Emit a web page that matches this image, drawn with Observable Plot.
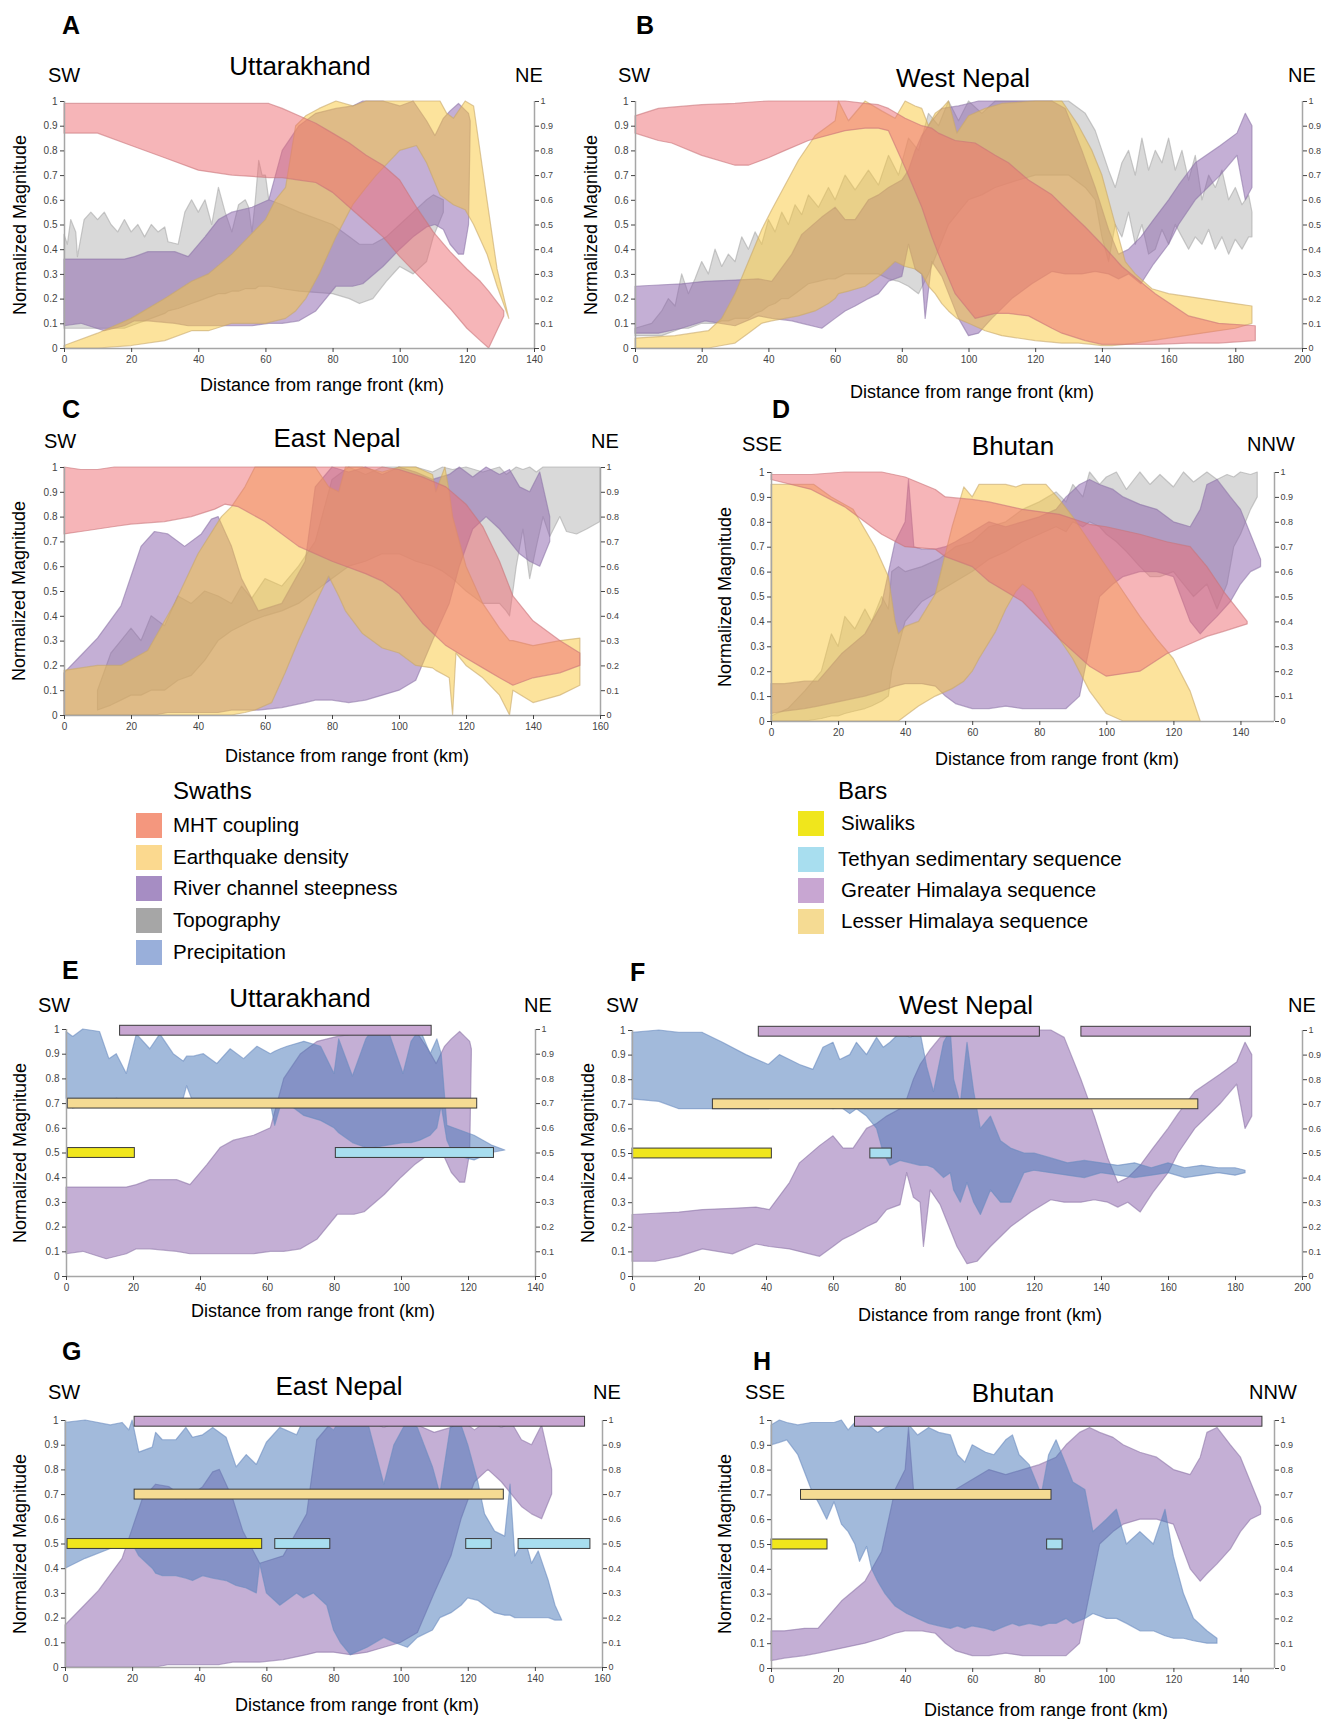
<!DOCTYPE html>
<html><head><meta charset="utf-8">
<script src="https://cdn.jsdelivr.net/npm/d3@7"></script>
<script src="https://cdn.jsdelivr.net/npm/@observablehq/plot@0.6"></script>
<style>
html,body{margin:0;padding:0;background:#fff;}
body{width:1321px;height:1719px;position:relative;overflow:hidden;font-family:"Liberation Sans",Arial,sans-serif;color:#000;}
.t{position:absolute;white-space:nowrap;line-height:1;}
.sw{position:absolute;width:26px;height:25px;}
</style></head>
<body>
<script>
// ---------- DATA: swaths as [distance km, lower, upper] ----------
// Uttarakhand
const A_mht = [[0,.87,.99],[10,.87,.99],[20,.82,.99],[30,.77,.99],[40,.72,.99],[50,.70,.99],[61,.69,.99],[65,.69,.97],[70,.68,.94],[75,.67,.91],[80,.63,.87],[85,.57,.83],[90,.51,.78],[95,.45,.74],[100,.37,.68],[105,.30,.57],[110,.23,.47],[115,.16,.39],[120,.08,.32],[124,.03,.27],[126.5,0,.23],[131,.13,.15]];
const A_eq = [[0,0,.01],[10,0,.06],[20,.01,.12],[30,.03,.2],[38,.07,.27],[43,.07,.3],[50,.1,.38],[55,.1,.45],[60,.1,.52],[63,.11,.6],[66,.12,.65],[69,.15,.9],[72,.2,.94],[76,.3,.97],[81,.45,1],[86,.58,.98],[90,.65,1],[93,.7,1],[100,.8,1],[105,.82,1],[108,.75,1],[112,.62,1],[114,.6,.95],[116,.58,.93],[119.5,.56,1],[122,.5,.98],[126,.38,.6],[129,.25,.32],[132.5,.12,.12]];
const A_river = [[0,.09,.36],[5,.1,.36],[12,.07,.36],[18,.09,.36],[21,.11,.37],[25,.11,.39],[33,.1,.39],[37,.09,.37],[42,.09,.45],[46,.09,.52],[50,.09,.55],[56,.09,.57],[61,.1,.6],[65,.1,.8],[70,.11,.9],[75,.15,.95],[81,.25,.97],[86,.25,.98],[89,.26,1],[95,.33,1],[100,.4,.98],[104,.45,1],[108,.49,.92],[110.5,.5,.86],[113,.48,.93],[115,.42,.96],[117.5,.38,.99],[119,.38,.97],[120.5,.5,.95],[121,.9,.92]];
const A_topo = [[0,.08,.46],[1,.08,.42],[2,.08,.52],[3.5,.08,.47],[4,.08,.37],[6,.08,.52],[8,.08,.55],[10,.08,.52],[12,.08,.55],[14,.08,.5],[16,.08,.47],[18,.08,.52],[20,.09,.47],[22,.1,.5],[24,.11,.45],[26,.12,.5],[28,.13,.47],[30,.14,.49],[31,.15,.43],[34,.16,.42],[36,.17,.55],[38,.18,.6],[40,.19,.55],[42,.2,.6],[44,.21,.5],[46,.22,.65],[48,.22,.55],[50,.23,.47],[52,.23,.58],[54,.24,.6],[55,.24,.57],[56,.24,.47],[57,.24,.6],[58,.25,.76],[59,.25,.7],[60,.25,.7],[61,.25,.6],[65,.24,.58],[70,.23,.55],[80,.22,.5],[85,.2,.45],[88,.18,.42],[92,.2,.42],[96,.27,.45],[100,.33,.5],[104,.3,.55],[108,.35,.6],[110,.45,.62],[113,.55,.6]];
const E_precip = [[0,.72,.99],[2,.68,.97],[5,.69,1],[10,.7,.99],[12.8,.7,.88],[15,.72,.9],[18,.7,.82],[21,.7,.98],[25,.7,.92],[28,.7,.98],[32,.7,.9],[35,.72,.87],[36,.77,.89],[38,.7,.89],[41,.69,.9],[45,.7,.86],[49,.7,.92],[53,.7,.88],[57,.7,.93],[61,.7,.9],[62.3,.61,.91],[64,.69,.92],[66,.7,.93],[71,.65,.95],[76,.63,.93],[80,.6,.82],[81.4,.58,.96],[85.5,.54,.81],[89.5,.52,.96],[91.5,.52,1],[96,.53,1],[100.6,.54,.82],[103,.54,.95],[105.6,.55,1],[108.7,.57,.9],[110.7,.6,.96],[112,.69,.9],[113.7,.55,.61],[115.7,.49,.6],[121.8,.47,.57],[127,.5,.53],[131,.51,.51]];
const E_units = [["Greater Himalaya sequence",16,109],["Lesser Himalaya sequence",0.4,122.6],["Siwaliks",0.4,20.4],["Tethyan sedimentary sequence",80.4,127.6]];

// West Nepal
const B_mht = [[0,.87,.94],[7,.84,.97],[11,.83,.975],[20,.78,.985],[30,.74,.99],[34,.74,.995],[40,.77,1],[45,.8,1],[52,.84,1],[63,.88,1],[69,.89,.99],[73,.89,.985],[76,.88,.97],[81,.73,.93],[86,.57,.9],[89,.45,.89],[91,.38,.87],[96,.22,.84],[102,.12,.83],[108,.14,.78],[112,.14,.75],[118,.13,.68],[125,.08,.62],[128,.06,.58],[135,.03,.49],[140,.015,.42],[146,.015,.33],[156,.015,.22],[166,.02,.13],[175,.02,.1],[186,.03,.09]];
const B_eq = [[0,0,.04],[12,0,.05],[22,0,.07],[26,.01,.12],[30,.02,.22],[34,.06,.35],[38,.1,.48],[41,.11,.56],[45,.12,.66],[49,.13,.76],[54,.15,.86],[58,.18,.9],[60,.2,.92],[61,.22,1],[64,.23,.92],[69,.25,1],[74,.3,.96],[78,.35,.93],[81,.33,1],[84,.32,.98],[86,.3,.97],[88,.25,.9],[90,.22,.95],[92,.18,.97],[94,.15,1],[96.5,.12,.87],[100,.1,.94],[105,.07,.97],[110,.05,.99],[120,.03,1],[128,.02,1],[133,.02,.9],[137,.015,.8],[140,.01,.7],[143,.01,.55],[147,.015,.35],[150,.02,.3],[155,.03,.24],[160,.04,.22],[170,.06,.2],[180,.08,.18],[185,.1,.17]];
const B_river = [[0,.06,.25],[7,.06,.255],[14,.08,.26],[21,.11,.27],[30,.09,.275],[37,.13,.28],[41,.12,.27],[47,.11,.38],[50,.1,.46],[56,.08,.53],[60,.12,.57],[63,.15,.52],[66,.17,.52],[70,.2,.6],[73,.22,.62],[76,.27,.65],[80,.29,.68],[82,.42,.72],[84,.32,.8],[86,.3,.86],[87,.12,.88],[89,.35,.92],[92,.29,.97],[97,.12,.98],[100,.05,.99],[103,.06,1],[107,.12,1],[113,.2,1],[119,.26,1],[125,.31,1],[129,.3,.97],[134,.3,.8],[138,.31,.65],[142,.3,.48],[145,.28,.38],[148,.3,.4],[151.7,.26,.45],[155.5,.34,.52],[160,.42,.6],[163,.5,.66],[168,.6,.75],[175.5,.7,.82],[180.5,.78,.87],[183,.6,.95],[185,.65,.9]];
const B_topo = [[0,.05,.08],[5,.05,.1],[8,.05,.15],[10,.06,.2],[12,.07,.17],[14,.08,.3],[16,.08,.22],[18,.09,.28],[20,.1,.35],[22,.1,.3],[24,.1,.4],[26,.11,.33],[28,.11,.38],[30,.12,.35],[32,.12,.45],[34,.12,.4],[36,.14,.47],[38,.15,.42],[40,.17,.52],[42,.18,.47],[44,.2,.55],[46,.2,.5],[48,.22,.58],[50,.24,.54],[52,.26,.62],[55,.27,.57],[58,.28,.65],[60,.28,.6],[63,.3,.7],[66,.3,.64],[70,.3,.72],[73,.3,.66],[76,.28,.78],[79,.27,.7],[82,.25,.85],[85,.22,.8],[88,.3,.95],[91,.4,.9],[94,.5,1],[97,.55,.92],[100,.6,1],[104,.62,.95],[108,.65,1],[115,.68,1],[120,.7,1],[130,.7,1],[135,.65,.95],[138,.6,.88],[140,.45,.8],[142,.35,.72],[144,.5,.65],[146,.45,.75],[148,.55,.8],[150,.42,.7],[152,.5,.85],[154,.38,.72],[156,.4,.8],[158,.48,.75],[160,.42,.85],[162,.5,.72],[164,.45,.8],[166,.4,.68],[168,.45,.78],[170,.42,.6],[172,.48,.7],[174,.4,.65],[176,.45,.72],[178,.38,.6],[180,.44,.65],[182,.4,.58],[184,.45,.62],[185,.45,.55]];
const F_precip = [[0,.72,.99],[8,.71,1],[14,.68,.99],[21,.68,.99],[27,.68,.95],[34,.68,.9],[40.7,.68,.86],[44,.7,.9],[47,.69,.88],[50,.7,.86],[54,.7,.84],[57,.7,.93],[60,.68,.95],[62,.69,.88],[65,.66,.9],[67,.68,.95],[70,.65,.9],[73,.6,.97],[75,.5,.93],[77,.45,.95],[80,.47,.99],[83,.46,.97],[86,.45,.99],[88,.45,.85],[90,.44,.75],[93,.4,.95],[95,.42,1],[96,.35,.8],[98,.3,.7],[100,.38,.95],[102,.3,.75],[104,.25,.6],[107,.35,.65],[110,.3,.55],[113,.3,.52],[117,.42,.5],[120,.43,.5],[125,.42,.48],[130,.41,.46],[135,.4,.47],[140,.42,.46],[145,.41,.45],[150,.4,.46],[155,.41,.44],[160,.42,.46],[165,.4,.44],[170,.41,.45],[175,.42,.44],[180,.41,.44],[183,.42,.43]];
const F_units = [["Greater Himalaya sequence",37.7,121.6],["Greater Himalaya sequence",134,184.6],["Lesser Himalaya sequence",24,168.9],["Siwaliks",0,41.6],["Tethyan sedimentary sequence",71,77.4]];

// East Nepal
const C_mht = [[0,.73,1],[5,.74,.99],[10,.75,.99],[15,.76,1],[20,.77,1],[30,.78,1],[38,.8,1],[45,.83,1],[48,.85,1],[52,.84,1],[60,.78,1],[70,.68,1],[80,.62,1],[90,.57,1],[95,.54,1],[100,.49,.99],[107,.37,.96],[114,.28,.92],[120,.23,.85],[125,.19,.76],[130,.15,.62],[134,.12,.48],[140,.15,.38],[148,.17,.3],[154,.2,.25]];
const C_eq = [[0,0,.18],[10,0,.2],[17,0,.2],[25,0,.26],[33,0,.45],[40,0,.65],[47,0,.8],[50,0,.84],[54,.01,.92],[57,.02,1],[62,.05,1],[66,.17,1],[70,.3,1],[75,.45,1],[79,.56,.92],[82,.48,.9],[84,.42,1],[89,.33,1],[95,.27,.98],[100,.25,1],[105,.2,1],[110,.19,.97],[111,.18,.9],[113.7,.16,1],[115,.15,.9],[116,0,.8],[117,.25,.75],[120,.2,.6],[125,.15,.45],[130,.08,.35],[133,0,.3],[134,.1,.3],[140,.05,.28],[148,.08,.3],[154,.12,.31]];
const C_river = [[0,0,.17],[5,0,.24],[10,0,.31],[17,0,.44],[21,0,.6],[23,0,.68],[27,0,.74],[31,.01,.73],[36,.01,.68],[41,.01,.73],[44,.01,.79],[46,.01,.8],[50,.02,.68],[53,.02,.55],[58,.02,.42],[65,.03,.45],[72,.05,.62],[75,.06,.92],[80,.06,1],[85,.05,.98],[90,.06,1],[95,.08,.97],[100,.1,1],[105,.14,.98],[110,.3,.95],[115,.45,.97],[118,.6,1],[122,.75,.96],[126,.8,1],[130,.75,.97],[133,.7,.99],[136,.65,.92],[139,.62,.9],[142,.6,.98],[145,.7,.8]];
const C_topo = [[10,.02,.1],[14,.04,.25],[17,.06,.3],[20,.08,.35],[23,.08,.3],[26,.1,.4],[30,.1,.36],[34,.14,.48],[38,.16,.45],[42,.22,.5],[46,.3,.48],[50,.34,.45],[53,.36,.52],[56,.38,.47],[60,.4,.55],[65,.42,.52],[70,.45,.6],[75,.5,.7],[80,.55,.95],[85,.6,1],[90,.62,.97],[95,.65,1],[100,.65,1],[105,.62,1],[110,.6,.98],[113,.58,1],[116,.55,.99],[120,.5,1],[125,.45,.98],[130,.45,1],[132,.42,.97],[133,.4,.98],[135,.6,1],[137,.75,.99],[139,.55,1],[141,.68,.98],[143,.8,1],[145,.72,1],[148,.8,1],[150,.74,1],[153,.73,1],[156,.75,1],[160,.78,1]];
const G_precip = [[0,.4,.99],[6,.44,1],[13.5,.48,.98],[17,.5,.99],[19,.52,.96],[20,.5,1],[22,.45,.87],[26,.4,.89],[27,.38,.95],[29,.37,.92],[33,.37,.92],[36,.36,.97],[38,.35,.93],[41,.37,.94],[44,.36,.97],[48,.35,.93],[51,.33,.81],[54,.32,.86],[57,.3,.82],[58,.42,.85],[60,.3,.91],[64,.25,.97],[69,.3,.94],[71,.28,1],[74,.3,1],[78,.25,.98],[80,.15,.96],[82,.1,1],[85,.05,.99],[90,.08,1],[95,.12,.74],[98,.1,.9],[102,.08,1],[105,.12,.97],[109.5,.15,.81],[111.7,.2,.7],[115,.22,.99],[118,.25,.98],[120,.28,.9],[123,.27,.75],[125,.25,.62],[128,.22,.55],[131,.21,.53],[132.6,.21,.74],[134,.2,.45],[137,.2,.52],[139,.2,.42],[141,.2,.47],[144,.2,.35],[146,.19,.25],[148,.19,.19]];
const G_units = [["Greater Himalaya sequence",20.6,154.8],["Lesser Himalaya sequence",20.6,130.6],["Siwaliks",0.6,58.6],["Tethyan sedimentary sequence",62.5,78.9],["Tethyan sedimentary sequence",119.4,127],["Tethyan sedimentary sequence",135,156.4]];

// Bhutan
const D_mht = [[0,.97,.99],[12,.93,.99],[22,.86,1],[33,.75,1],[40,.7,.98],[49,.69,.93],[52,.66,.9],[60,.62,.89],[65,.56,.88],[75,.48,.85],[86,.33,.83],[95,.22,.79],[100,.18,.78],[110,.2,.75],[118,.27,.72],[125,.31,.7],[130,.34,.62],[135,.36,.52],[142,.39,.4]];
const D_eq = [[0,0,.95],[6,0,.95],[12.8,0,.95],[18,0,.9],[24.5,0,.85],[31,0,.7],[35,0,.58],[37,0,.4],[38,0,.35],[40,.02,.38],[44,.06,.4],[49,.1,.51],[54,.13,.78],[57.5,.16,.94],[60,.2,.9],[62,.25,.95],[67,.36,.95],[70,.45,.95],[73,.52,.94],[75,.55,.95],[78,.52,.95],[82,.42,.95],[86,.33,.89],[90,.25,.82],[95,.12,.72],[100,.03,.62],[105,0,.52],[110,0,.42],[115,0,.33],[120,0,.25],[125,0,.12],[128,0,0]];
const D_river = [[0,.03,.15],[4,.04,.15],[10,.05,.16],[14,.06,.16],[21,.08,.27],[28,.1,.35],[33,.12,.47],[37,.14,.72],[40,.15,.8],[41,.15,.97],[42.6,.15,.7],[45,.15,.69],[49,.14,.69],[52,.1,.7],[55,.07,.72],[60,.05,.76],[65,.05,.8],[70,.06,.78],[75,.05,.8],[80,.05,.82],[85,.05,.85],[88,.05,.9],[92,.1,.95],[95,.3,.97],[98,.5,.95],[102,.55,.93],[105,.58,.9],[110,.6,.87],[115,.6,.85],[120,.58,.8],[125,.4,.78],[128,.35,.85],[130,.38,.95],[133,.42,.97],[137,.48,.9],[140,.55,.85],[143,.6,.75],[146,.62,.65]];
const D_topo = [[0,0,.02],[5,0,.05],[10,0,.12],[15,.01,.2],[18,.02,.35],[20,.02,.3],[22,.03,.42],[25,.04,.37],[28,.05,.45],[30,.06,.4],[33,.08,.5],[35,.1,.45],[36,.2,.6],[38,.3,.62],[40,.4,.6],[45,.48,.62],[50,.52,.65],[55,.56,.7],[60,.6,.72],[65,.65,.78],[70,.68,.8],[75,.72,.85],[80,.75,.88],[85,.78,.92],[88,.76,.88],[90,.8,.95],[93,.78,.9],[95,.8,1],[98,.78,.95],[100,.75,.98],[103,.72,1],[106,.68,.93],[110,.62,1],[113,.58,.95],[116,.58,.99],[120,.6,.94],[123,.55,1],[126,.5,.96],[130,.55,1],[133,.45,.97],[136,.55,.99],[138,.7,.98],[140,.75,1],[143,.85,.99],[145,.9,1]];
const H_precip = [[0,.9,.98],[2.5,.91,1],[4.7,.92,.99],[8,.86,.98],[12,.72,.99],[14.4,.66,.99],[16.6,.6,.99],[18.8,.67,.99],[21,.58,1],[23,.55,.96],[25,.5,.99],[26.4,.43,.99],[28.5,.49,.98],[30,.4,.97],[31.8,.35,.95],[34,.3,.97],[37,.25,.98],[40.5,.22,.99],[43.7,.2,.94],[47,.18,.97],[50,.17,.95],[53.5,.16,.94],[55.6,.17,.86],[57.8,.16,.83],[60,.17,.9],[64,.16,.87],[66.5,.15,.86],[70,.17,.92],[72,.18,.94],[74,.17,.86],[77,.18,.82],[80.6,.17,.7],[82.8,.18,.86],[85,.18,.92],[88,.2,.82],[90,.18,.75],[93.6,.2,.72],[96,.22,.55],[100,.2,.6],[103,.2,.64],[106,.18,.5],[110,.15,.55],[114,.15,.5],[117.5,.13,.64],[120,.12,.45],[123,.12,.3],[126,.11,.2],[130,.1,.15],[133,.1,.12]];
const H_units = [["Greater Himalaya sequence",24.9,146.4],["Lesser Himalaya sequence",8.8,83.5],["Siwaliks",0,16.7],["Tethyan sedimentary sequence",82.2,86.8]];

// Legend categories
const swathNames = ["MHT coupling","Earthquake density","River channel steepness","Topography","Precipitation"];
const barNames = ["Siwaliks","Tethyan sedimentary sequence","Greater Himalaya sequence","Lesser Himalaya sequence"];
const yTickValues = [0,.1,.2,.3,.4,.5,.6,.7,.8,.9,1];

// ---------- STYLES (semi-transparent swaths, like the original spreadsheet fills) ----------
const SWATH = {
  mht:   {fill:"#ED6B71", stroke:"#C9747A"},
  eq:    {fill:"#F9C739", stroke:"#C8A86A"},
  river: {fill:"#895FAB", stroke:"#8E76A8"},
  topo:  {fill:"#B3B3B3", stroke:"#A8A8A8"},
  pre:   {fill:"#4575B7", stroke:"#6A8CC0"}
};
const LEG_SWATH = ["#F4977E","#FBD98F","#A68DC3","#A6A6A6","#99AFDA"];
const BAR = {
  "Siwaliks": {fill:"#F0E61C", lv:[.48,.52]},
  "Tethyan sedimentary sequence": {fill:"#A8DEEF", lv:[.48,.52]},
  "Greater Himalaya sequence": {fill:"#C8A6D2", lv:[.975,1.015]},
  "Lesser Himalaya sequence": {fill:"#F5DB93", lv:[.68,.72]}
};
const LEG_BAR = barNames.map(n => BAR[n].fill);

const FONT = '"Liberation Sans", Arial, sans-serif';

function band(data, key) {
  return Plot.areaY(data, {x: d => d[0], y1: d => d[1], y2: d => d[2],
    fill: SWATH[key].fill, fillOpacity: 0.5,
    stroke: SWATH[key].stroke, strokeWidth: 1.2, strokeOpacity: 0.6});
}
function bars(units) {
  return Plot.rect(units, {x1: d => d[1], x2: d => d[2],
    y1: d => BAR[d[0]].lv[0], y2: d => BAR[d[0]].lv[1],
    fill: d => BAR[d[0]].fill, stroke: "#3a3a3a", strokeWidth: 1});
}

function txt(s, x, y, size, opt = {}) {
  const el = document.createElement("div");
  el.className = "t";
  el.textContent = s;
  el.style.left = x + "px";
  el.style.top = y + "px";
  el.style.fontSize = size + "px";
  if (opt.bold) el.style.fontWeight = "bold";
  let tf = opt.center ? "translate(-50%,-50%)" : "translate(0,-50%)";
  if (opt.rot) tf = "translate(-50%,-50%) rotate(-90deg)";
  el.style.transform = tf;
  if (opt.family) el.style.fontFamily = opt.family;
  document.body.appendChild(el);
}

function panel(p) {
  const [L, R, T, B] = p.frame;
  const mL = 48, mR = 30, mT = 16, mB = 26;
  const fmt = v => v === 0 ? "0" : v === 1 ? "1" : d3.format(".1f")(v);
  const xt = d3.range(0, p.xmax + 0.1, 20);
  const svg = Plot.plot({
    width: R - L + mL + mR, height: B - T + mT + mB,
    marginLeft: mL, marginRight: mR, marginTop: mT, marginBottom: mB,
    x: {domain: [0, p.xmax]}, y: {domain: [0, 1]},
    style: {fontFamily: FONT, background: "transparent", overflow: "visible", color: "#333"},
    marks: [
      ...p.bands.map(([d, k]) => band(d, k)),
      ...(p.units ? [bars(p.units)] : []),
      Plot.ruleY([0], {stroke: "#A6A6A6", strokeWidth: 1.5}),
      Plot.ruleX([0], {stroke: "#A6A6A6", strokeWidth: 1.5}),
      Plot.ruleX([p.xmax], {stroke: "#A6A6A6", strokeWidth: 1.5}),
      Plot.axisX({ticks: xt, tickFormat: d3.format("d"), tickSize: 4, tickPadding: 3, fontSize: 10, label: null, color: "#444"}),
      Plot.axisY({anchor: "left", ticks: yTickValues, tickFormat: fmt, tickSize: 4, tickPadding: 3, fontSize: 10, label: null, color: "#444"}),
      Plot.axisY({anchor: "right", ticks: yTickValues, tickFormat: fmt, tickSize: 4, tickPadding: 2, fontSize: 9, label: null, color: "#444"})
    ]
  });
  svg.style.position = "absolute";
  svg.style.left = (L - mL) + "px";
  svg.style.top = (T - mT) + "px";
  document.body.appendChild(svg);
  txt(p.letter, p.letterPos[0], p.letterPos[1], 25, {bold: true, family: "Arial, 'Liberation Sans', sans-serif"});
  txt(p.title, p.titlePos[0], p.titlePos[1], 26, {center: true});
  txt(p.dirs[0], p.dirPos[0], p.dirPos[2], 20);
  txt(p.dirs[1], p.dirPos[1], p.dirPos[2], 20);
  txt("Distance from range front (km)", p.xlab[0], p.xlab[1], 18, {center: true});
  txt("Normalized Magnitude", p.ylab, (T + B) / 2, 18, {rot: true});
}

const PANELS = [
  {letter:"A", title:"Uttarakhand", dirs:["SW","NE"], frame:[64,534,101,348], xmax:140,
   letterPos:[62,25], titlePos:[300,66], dirPos:[48,515,75], xlab:[322,385], ylab:20,
   bands:[[A_topo,"topo"],[A_river,"river"],[A_eq,"eq"],[A_mht,"mht"]]},
  {letter:"B", title:"West Nepal", dirs:["SW","NE"], frame:[635,1302,101,348], xmax:200,
   letterPos:[636,25], titlePos:[963,78], dirPos:[618,1288,75], xlab:[972,392], ylab:591,
   bands:[[B_topo,"topo"],[B_river,"river"],[B_eq,"eq"],[B_mht,"mht"]]},
  {letter:"C", title:"East Nepal", dirs:["SW","NE"], frame:[64,600,467,715], xmax:160,
   letterPos:[62,409], titlePos:[337,438], dirPos:[44,591,441], xlab:[347,756], ylab:19,
   bands:[[C_topo,"topo"],[C_river,"river"],[C_eq,"eq"],[C_mht,"mht"]]},
  {letter:"D", title:"Bhutan", dirs:["SSE","NNW"], frame:[771,1274,472,721], xmax:150,
   letterPos:[772,409], titlePos:[1013,446], dirPos:[742,1247,444], xlab:[1057,759], ylab:725,
   bands:[[D_topo,"topo"],[D_river,"river"],[D_eq,"eq"],[D_mht,"mht"]]},
  {letter:"E", title:"Uttarakhand", dirs:["SW","NE"], frame:[66,535,1029,1276], xmax:140,
   letterPos:[62,970], titlePos:[300,998], dirPos:[38,524,1005], xlab:[313,1311], ylab:20,
   bands:[[A_river,"river"],[E_precip,"pre"]], units:E_units},
  {letter:"F", title:"West Nepal", dirs:["SW","NE"], frame:[632,1302,1030,1276], xmax:200,
   letterPos:[630,972], titlePos:[966,1005], dirPos:[606,1288,1005], xlab:[980,1315], ylab:588,
   bands:[[B_river,"river"],[F_precip,"pre"]], units:F_units},
  {letter:"G", title:"East Nepal", dirs:["SW","NE"], frame:[65,602,1420,1667], xmax:160,
   letterPos:[62,1351], titlePos:[339,1386], dirPos:[48,593,1392], xlab:[357,1705], ylab:20,
   bands:[[C_river,"river"],[G_precip,"pre"]], units:G_units},
  {letter:"H", title:"Bhutan", dirs:["SSE","NNW"], frame:[771,1274,1420,1668], xmax:150,
   letterPos:[753,1361], titlePos:[1013,1393], dirPos:[745,1249,1392], xlab:[1046,1710], ylab:725,
   bands:[[D_river,"river"],[H_precip,"pre"]], units:H_units}
];
PANELS.forEach(panel);

// ---------- LEGEND ----------
txt("Swaths", 173, 791, 24);
const swRows = [825, 857, 888, 920, 952];
swathNames.forEach((n, i) => {
  const s = document.createElement("div");
  s.className = "sw"; s.style.left = "136px"; s.style.top = (swRows[i] - 12) + "px";
  s.style.background = LEG_SWATH[i];
  document.body.appendChild(s);
  txt(n, 173, swRows[i], 20.5);
});
txt("Bars", 838, 791, 24);
const barRows = [823, 859, 890, 921];
barNames.forEach((n, i) => {
  const s = document.createElement("div");
  s.className = "sw"; s.style.left = "798px"; s.style.top = (barRows[i] - 12) + "px";
  s.style.background = LEG_BAR[i];
  document.body.appendChild(s);
  txt(n, i === 1 ? 838 : 841, barRows[i], 20.5);
});
</script>
</body></html>
